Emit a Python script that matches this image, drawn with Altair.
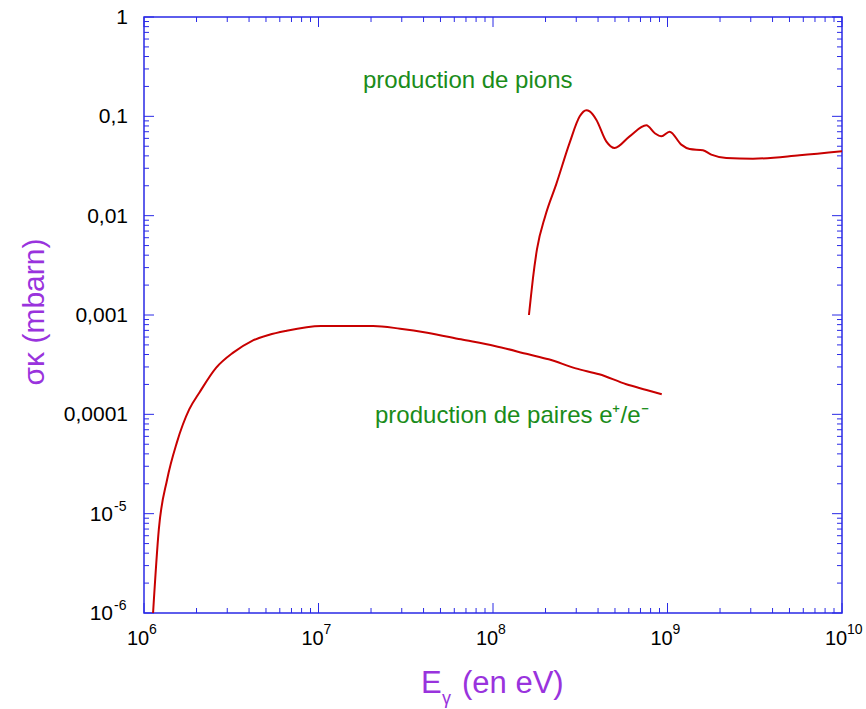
import altair as alt
import pandas as pd

# ---------------- data ----------------
pair_E = [1.127e6, 1.216e6, 1.358e6, 1.542e6, 1.816e6, 2.075e6, 2.594e6, 3.243e6,
          4.140e6, 5.176e6, 6.457e6, 1.033e7, 2.056e7, 2.938e7, 4.198e7, 6.546e7,
          1.023e8, 1.596e8, 2.084e8, 2.979e8, 4.064e8, 5.808e8, 7.586e8, 9.268e8]
pair_sigma = [1.0e-6, 6.95e-6, 2.22e-5, 5.19e-5, 1.12e-4, 1.65e-4, 2.95e-4, 4.18e-4,
              5.47e-4, 6.29e-4, 6.90e-4, 7.75e-4, 7.75e-4, 7.28e-4, 6.64e-4, 5.69e-4,
              4.88e-4, 4.02e-4, 3.58e-4, 2.90e-4, 2.53e-4, 2.01e-4, 1.76e-4, 1.59e-4]

pion_E = [1.607e8, 1.641e8, 1.694e8, 1.786e8, 1.995e8, 2.307e8, 2.748e8, 3.141e8,
          3.428e8, 3.581e8, 3.908e8, 4.457e8, 4.977e8, 6.067e8, 7.568e8, 8.433e8,
          9.226e8, 1.028e9, 1.199e9, 1.340e9, 1.596e9, 1.782e9, 2.173e9, 3.090e9,
          5.715e9, 1.0e10]
pion_sigma = [1.0e-3, 1.41e-3, 2.34e-3, 4.57e-3, 1.0e-2, 2.09e-2, 5.40e-2, 0.100,
              0.115, 0.112, 0.0925, 0.0560, 0.0480, 0.0629, 0.0811, 0.0679,
              0.0629, 0.0701, 0.0519, 0.0469, 0.0455, 0.0411, 0.0381, 0.0375,
              0.0405, 0.0445]

x_tick_values = [1e6, 1e7, 1e8, 1e9, 1e10]
x_tick_exps = ["6", "7", "8", "9", "10"]
y_plain_values = [1, 0.1, 0.01, 0.001, 0.0001]
y_plain_labels = ["1", "0,1", "0,01", "0,001", "0,0001"]
y_sci_values = [1e-5, 1e-6]
y_sci_exps = ["-5", "-6"]

x_minor = [m * 10.0 ** k for k in range(6, 10) for m in range(2, 10)]
y_minor = [m * 10.0 ** k for k in range(-6, 0) for m in range(2, 10)]
y_major = [1e-6, 1e-5, 1e-4, 1e-3, 1e-2, 1e-1, 1]

# ---------------- styling ----------------
W, H = 698, 596
BLUE = "#2a2ae6"
RED = "#c80000"
GREEN = "#1a8c1a"
PURPLE = "#9933dd"
FONT = "Liberation Sans"
MAJ, MIN = 10, 5

xs = alt.Scale(type="log", domain=[1e6, 1e10])
ys = alt.Scale(type="log", domain=[1e-6, 1])

curves = pd.DataFrame({
    "E": pair_E + pion_E,
    "sigma": pair_sigma + pion_sigma,
    "series": ["paires"] * len(pair_E) + ["pions"] * len(pion_E),
})

line = alt.Chart(curves).mark_line(color=RED, strokeWidth=2, clip=True,
                                   interpolate="monotone").encode(
    x=alt.X("E:Q", scale=xs, axis=None),
    y=alt.Y("sigma:Q", scale=ys, axis=None),
    detail="series:N",
)


def xticks(vals, length):
    d = pd.DataFrame({"v": vals})
    base = alt.Chart(d).mark_rule(color=BLUE, strokeWidth=1)
    bottom = base.encode(x=alt.X("v:Q", scale=xs, axis=None),
                         y=alt.value(H), y2=alt.value(H - length))
    top = base.encode(x=alt.X("v:Q", scale=xs, axis=None),
                      y=alt.value(0), y2=alt.value(length))
    return [bottom, top]


def yticks(vals, length):
    d = pd.DataFrame({"v": vals})
    base = alt.Chart(d).mark_rule(color=BLUE, strokeWidth=1)
    left = base.encode(y=alt.Y("v:Q", scale=ys, axis=None),
                       x=alt.value(0), x2=alt.value(length))
    right = base.encode(y=alt.Y("v:Q", scale=ys, axis=None),
                        x=alt.value(W), x2=alt.value(W - length))
    return [left, right]


tick_layers = (xticks(x_minor, MIN) + xticks(x_tick_values, MAJ)
               + yticks(y_minor, MIN) + yticks(y_major, MAJ))

# x tick labels: "10" + superscript exponent
xlab = pd.DataFrame({"v": x_tick_values, "e": x_tick_exps, "b": ["10"] * 5})
xbase = alt.Chart(xlab).mark_text(font=FONT, fontSize=20, color="black",
                                  align="center", baseline="middle", dx=-6).encode(
    x=alt.X("v:Q", scale=xs, axis=None), y=alt.value(H + 26), text="b:N")
xexp = alt.Chart(xlab).mark_text(font=FONT, fontSize=14, color="black",
                                 align="left", baseline="middle", dx=5).encode(
    x=alt.X("v:Q", scale=xs, axis=None), y=alt.value(H + 17), text="e:N")

# y tick labels
yplain = alt.Chart(pd.DataFrame({"v": y_plain_values, "t": y_plain_labels})).mark_text(
    font=FONT, fontSize=21, color="black", align="right", baseline="middle", dy=1).encode(
    y=alt.Y("v:Q", scale=ys, axis=None), x=alt.value(-16), text="t:N")
ysci = pd.DataFrame({"v": y_sci_values, "e": y_sci_exps, "b": ["10"] * 2})
ysbase = alt.Chart(ysci).mark_text(font=FONT, fontSize=21, color="black",
                                   align="right", baseline="middle", dy=1).encode(
    y=alt.Y("v:Q", scale=ys, axis=None), x=alt.value(-31), text="b:N")
ysexp = alt.Chart(ysci).mark_text(font=FONT, fontSize=14, color="black",
                                  align="left", baseline="middle", dy=-7).encode(
    y=alt.Y("v:Q", scale=ys, axis=None), x=alt.value(-30), text="e:N")

one = pd.DataFrame({"k": [0]})


def label(text, x, y, size, color, align="left", baseline="alphabetic", angle=0):
    kw = dict(text=text, font=FONT, fontSize=size, color=color,
              align=align, baseline=baseline)
    if angle:
        kw["angle"] = angle
    return alt.Chart(one).mark_text(**kw).encode(x=alt.value(x), y=alt.value(y))


annotations = [
    label("production de pions", 219, 71, 24, GREEN),
    label("production de paires e\u207a/e\u207b", 231, 406, 24, GREEN),
    label("E", 277, 676, 31, PURPLE),
    label("\u03b3", 298, 687, 18, PURPLE),
    label("(en eV)", 318, 676, 31, PURPLE),
    label("\u03c3\u03ba (mbarn)", -109, 295, 30, PURPLE,
          align="center", baseline="middle", angle=270),
]

chart = alt.layer(
    *tick_layers, line, xbase, xexp, yplain, ysbase, ysexp, *annotations
).properties(
    width=W, height=H,
    padding={"left": 144, "top": 17, "right": 24, "bottom": 96},
    autosize=alt.AutoSizeParams(type="none"),
).configure_view(stroke=BLUE, strokeWidth=1.5)

chart.save("out.html", embed_options={"renderer": "svg", "actions": False})
